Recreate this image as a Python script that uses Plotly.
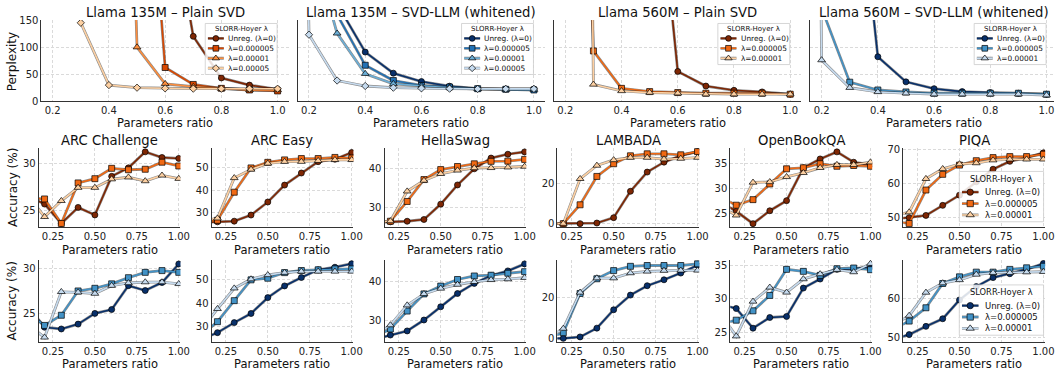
import plotly.graph_objects as go

FIG_W, FIG_H = 1063, 374
FONT = "DejaVu Sans"

# ---------------------------------------------------------------- data
RATIOS = [0.1, 0.2, 0.3, 0.4, 0.5, 0.6, 0.7, 0.8, 0.9, 1.0]
LEGEND_TITLE = "SLORR-Hoyer λ"
LEGEND_LABELS = ["Unreg. (λ=0)", "λ=0.000005", "λ=0.00001", "λ=0.00005"]

TOP_TITLES = ["Llama 135M – Plain SVD", "Llama 135M – SVD-LLM (whitened)",
              "Llama 560M – Plain SVD", "Llama 560M – SVD-LLM (whitened)"]
TASKS = ["ARC Challenge", "ARC Easy", "HellaSwag", "LAMBADA", "OpenBookQA", "PIQA"]

PPL_TICKS = [0, 50, 100, 150]
TOP_X_TICKS = [0.2, 0.4, 0.6, 0.8, 1.0]
ACC_X_TICKS = [0.25, 0.5, 0.75, 1.0]
ACC_Y_TICKS = [[25, 30], [30, 40, 50], [30, 40], [0, 20], [25, 30, 35], [50, 60, 70]]

# Perplexity (top row)
ppl135_plain_unreg = [9000, 6000, 4000, 2500, 1500, 420, 120, 43.2, 30, 22.2]
ppl135_plain_l5e6 = [8000, 5000, 3000, 1500, 740, 62.5, 31.2, 24, 21, 19.2]
ppl135_plain_l1e5 = [8000, 5000, 3000, 1770, 100, 32.4, 27, 23.4, 21, 21]
ppl135_plain_l5e5 = [9000, 4000, 145, 30, 25.2, 24, 23.4, 23.4, 23.4, 23.4]

ppl135_svdllm_unreg = [9000, 600, 180, 91, 52, 36.6, 28, 23.5, 22.8, 22.8]
ppl135_svdllm_l5e6 = [9000, 500, 160, 66.6, 38.4, 29.4, 26.4, 23.4, 22.2, 21]
ppl135_svdllm_l1e5 = [9000, 310, 125.5, 51, 32.4, 28.2, 25, 22.8, 21.6, 21.6]
ppl135_svdllm_l5e5 = [3000, 123, 38.4, 28.3, 25.2, 24, 23.4, 23, 23, 23]

ppl560_plain_unreg = [9000, 6000, 4000, 2000, 573, 55.2, 28.2, 20.4, 17.4, 13.2]
ppl560_plain_l5e6 = [9000, 1500, 93, 24, 18, 16.2, 15, 15, 15, 13.2]
ppl560_plain_l1e5 = [9000, 5000, 31.2, 19.2, 16.2, 15, 13.2, 13.2, 13.2, 13.2]

ppl560_svdllm_unreg = [9000, 3000, 566, 82.3, 36, 23.4, 18, 16.2, 15, 13.2]
ppl560_svdllm_l5e6 = [9000, 172, 35.4, 21, 17.4, 15, 15, 15, 15, 13.2]
ppl560_svdllm_l1e5 = [5000, 76.2, 25.2, 17.4, 15, 13.2, 13.2, 13.2, 13.2, 11.4]

# Accuracy, plain SVD (middle row, oranges)
arcc_plain_unreg = [26.5, 25.66, 23.6, 25.3, 24.5, 28.6, 29.5, 31.2, 30.6, 30.5]
arcc_plain_l5e6 = [26.3, 26.2, 23.6, 27.9, 28.35, 29.45, 29.3, 29.35, 30.1, 29.7]
arcc_plain_l1e5 = [26.6, 24.3, 26.0, 27.4, 27.4, 28.3, 28.5, 28.1, 28.7, 28.35]

arce_plain_unreg = [25.5, 25.8, 26.1, 28.85, 34.7, 42.3, 47.7, 52.8, 53.9, 56.9]
arce_plain_l5e6 = [25.8, 26.5, 39.1, 50.0, 52.5, 53.6, 54.2, 54.2, 54.7, 54.4]
arce_plain_l1e5 = [26.2, 27.4, 45.5, 49.3, 52.0, 52.8, 52.8, 53.2, 53.6, 53.6]

hs_plain_unreg = [26.0, 26.2, 26.35, 26.8, 30.8, 35.8, 40.0, 42.8, 43.8, 44.4]
hs_plain_l5e6 = [26.0, 26.35, 31.5, 37.2, 39.8, 40.6, 41.3, 41.95, 42.0, 42.45]
hs_plain_l1e5 = [26.0, 26.4, 34.15, 36.95, 38.7, 39.6, 40.2, 40.25, 40.4, 40.6]

lam_plain_unreg = [0, 0, 0, 0.3, 3.0, 16.3, 26.0, 31.0, 34.3, 36.3]
lam_plain_l5e6 = [0, 0, 9.5, 23.8, 30.2, 34.2, 35.2, 35.2, 34.7, 36.3]
lam_plain_l1e5 = [0, 0, 22.6, 29.3, 32.1, 33.3, 33.3, 32.5, 32.8, 33.3]

obqa_plain_unreg = [27.5, 25.5, 23.05, 25.6, 27.6, 34.1, 35.85, 37.25, 35.2, 34.7]
obqa_plain_l5e6 = [28.4, 26.7, 27.8, 30.9, 33.9, 34.1, 34.9, 34.4, 34.55, 34.4]
obqa_plain_l1e5 = [26.5, 24.7, 31.2, 31.3, 32.3, 33.1, 34.1, 34.7, 34.7, 35.2]

piqa_plain_unreg = [49.5, 50.0, 50.65, 53.6, 56.6, 60.5, 64.2, 66.5, 67.6, 69.0]
piqa_plain_l5e6 = [49.0, 48.3, 58.1, 62.7, 65.4, 66.7, 67.6, 67.9, 67.9, 68.6]
piqa_plain_l1e5 = [50.5, 51.6, 61.4, 64.3, 65.7, 66.0, 66.85, 67.1, 67.1, 67.1]

# Accuracy, SVD-LLM (bottom row, blues)
arcc_svdllm_unreg = [25.8, 23.4, 23.2, 23.75, 24.96, 25.4, 28.1, 27.55, 28.45, 30.55]
arcc_svdllm_l5e6 = [25.0, 23.6, 24.75, 27.5, 27.8, 28.3, 29.0, 29.6, 29.8, 29.6]
arcc_svdllm_l1e5 = [23.7, 22.25, 27.4, 27.35, 27.2, 28.1, 28.4, 28.5, 28.5, 28.3]

arce_svdllm_unreg = [24.5, 27.4, 31.7, 35.6, 42.4, 47.4, 51.0, 54.3, 55.4, 56.9]
arce_svdllm_l5e6 = [26.1, 32.1, 41.1, 50.0, 50.7, 53.1, 54.0, 54.3, 54.7, 54.7]
arce_svdllm_l1e5 = [28.2, 37.6, 46.4, 50.3, 52.1, 53.1, 53.6, 53.6, 53.6, 53.6]

hs_svdllm_unreg = [25.0, 26.15, 27.2, 30.0, 33.4, 36.8, 39.4, 41.4, 42.6, 44.4]
hs_svdllm_l5e6 = [25.5, 27.7, 32.3, 36.7, 38.7, 40.4, 41.3, 41.5, 42.0, 42.4]
hs_svdllm_l1e5 = [25.8, 28.7, 33.8, 36.7, 38.1, 39.1, 39.8, 40.3, 40.5, 40.85]

lam_svdllm_unreg = [0, 0, 0.7, 5.0, 14.0, 21.2, 25.8, 28.7, 32.0, 35.8]
lam_svdllm_l5e6 = [0, 2.8, 22.0, 29.2, 33.2, 35.3, 35.7, 35.7, 35.7, 36.5]
lam_svdllm_l1e5 = [0, 4.8, 22.5, 29.5, 29.5, 32.0, 32.8, 33.2, 33.3, 33.3]

obqa_svdllm_unreg = [29.2, 28.55, 25.6, 27.2, 27.35, 31.6, 32.95, 34.4, 34.5, 34.75]
obqa_svdllm_l5e6 = [26.2, 26.8, 28.2, 30.5, 34.4, 34.1, 33.5, 34.5, 34.6, 34.35]
obqa_svdllm_l1e5 = [28.0, 24.4, 29.6, 31.7, 30.95, 32.95, 33.7, 34.35, 34.0, 35.25]

piqa_svdllm_unreg = [49.5, 50.75, 52.85, 54.8, 59.6, 63.0, 65.3, 66.3, 67.4, 68.9]
piqa_svdllm_l5e6 = [52.0, 54.2, 57.6, 63.8, 65.5, 66.7, 66.7, 67.4, 67.8, 68.2]
piqa_svdllm_l1e5 = [53.0, 55.6, 61.5, 63.9, 64.7, 66.1, 66.55, 66.55, 66.7, 66.8]

TOP_SERIES = [
    [ppl135_plain_unreg, ppl135_plain_l5e6, ppl135_plain_l1e5, ppl135_plain_l5e5],
    [ppl135_svdllm_unreg, ppl135_svdllm_l5e6, ppl135_svdllm_l1e5, ppl135_svdllm_l5e5],
    [ppl560_plain_unreg, ppl560_plain_l5e6, ppl560_plain_l1e5],
    [ppl560_svdllm_unreg, ppl560_svdllm_l5e6, ppl560_svdllm_l1e5],
]
MID_SERIES = [
    [arcc_plain_unreg, arcc_plain_l5e6, arcc_plain_l1e5],
    [arce_plain_unreg, arce_plain_l5e6, arce_plain_l1e5],
    [hs_plain_unreg, hs_plain_l5e6, hs_plain_l1e5],
    [lam_plain_unreg, lam_plain_l5e6, lam_plain_l1e5],
    [obqa_plain_unreg, obqa_plain_l5e6, obqa_plain_l1e5],
    [piqa_plain_unreg, piqa_plain_l5e6, piqa_plain_l1e5],
]
BOT_SERIES = [
    [arcc_svdllm_unreg, arcc_svdllm_l5e6, arcc_svdllm_l1e5],
    [arce_svdllm_unreg, arce_svdllm_l5e6, arce_svdllm_l1e5],
    [hs_svdllm_unreg, hs_svdllm_l5e6, hs_svdllm_l1e5],
    [lam_svdllm_unreg, lam_svdllm_l5e6, lam_svdllm_l1e5],
    [obqa_svdllm_unreg, obqa_svdllm_l5e6, obqa_svdllm_l1e5],
    [piqa_svdllm_unreg, piqa_svdllm_l5e6, piqa_svdllm_l1e5],
]

# ---------------------------------------------------------------- styles / layout
ORANGE4 = ["#7f2704", "#d94801", "#fd8d3c", "#fdd0a2"]
ORANGE3 = ["#7f2704", "#f16913", "#fdd0a2"]
BLUE4 = ["#08306b", "#2171b5", "#6baed6", "#c6dbef"]
BLUE3 = ["#08306b", "#4292c6", "#c6dbef"]
TOP_PALETTES = [ORANGE4, BLUE4, ORANGE3, BLUE3]
SYMBOLS = ["circle", "square", "triangle-up", "diamond"]
MSIZES = [6.0, 6.0, 6.8, 5.6]
OUTLINE = "rgba(25,25,25,0.5)"
OUTLINE_W, LINE_W = 2.8, 1.6

TOP_LEFTS = [41.8, 300.3, 558.8, 817.3]
TOP_WIDTH = 249.5
TOP_T, TOP_B = 15.5, 99.0
TOP_XR = [0.16, 1.04]
TOP_YR = [0, 150]

ACC_LEFTS = [39 + 174.4 * i for i in range(6)]
ACC_WIDTH = 143.0
ACC_XR = [0.165, 1.01]
MID_T, MID_B = 147.0, 228.3
BOT_T, BOT_B = 262.0, 346.5
MID_YR = [[23.2, 31.6], [23.4, 58.9], [24.8, 45.4], [-1.8, 38.1], [22.35, 38.0], [47.2, 70.4]]
BOT_YR = [[21.7, 31.0], [23.3, 58.5], [24.3, 45.4], [-1.9, 38.4], [23.5, 35.8], [48.8, 69.8]]

AX = dict(showgrid=True, gridcolor="#dadada", griddash="3px,2px", gridwidth=0.8,
          showline=True, linecolor="#333333", linewidth=1.1, zeroline=False,
          ticks="", tickfont=dict(size=10, color="#222222", family=FONT), fixedrange=True)

fig = go.Figure()
panels = []
annotations = []


def text(px, py, s, size, xanchor="center", angle=0, color="#111111"):
    annotations.append(dict(x=px / FIG_W, y=1 - py / FIG_H, xref="paper", yref="paper",
                            text=s, showarrow=False, xanchor=xanchor, yanchor="middle",
                            textangle=angle, borderpad=0,
                            font=dict(family=FONT, size=size, color=color)))


def make_axes(L, Wd, T, B, xr, yr, xticks, xfmt, yticks, show_y):
    k = len(panels) + 1
    s = "" if k == 1 else str(k)
    R = min(L + Wd, FIG_W)
    if R < L + Wd:
        xr = [xr[0], xr[0] + (xr[1] - xr[0]) * (R - L) / Wd]
        Wd = R - L
    fig.update_layout(**{
        "xaxis" + s: dict(domain=[L / FIG_W, R / FIG_W], range=xr, anchor="y" + s,
                          tickmode="array", tickvals=xticks, tickformat=xfmt, **AX),
        "yaxis" + s: dict(domain=[1 - B / FIG_H, 1 - T / FIG_H], range=yr, anchor="x" + s,
                          tickmode="array", tickvals=yticks, showticklabels=show_y, **AX),
    })
    p = dict(x="x" + s, y="y" + s, L=L, W=Wd, T=T, B=B, xr=xr, yr=yr)
    panels.append(p)
    return p


def add_series(p, ys, color, i):
    fig.add_trace(go.Scatter(x=RATIOS, y=ys, xaxis=p["x"], yaxis=p["y"], mode="lines",
                             line=dict(color=OUTLINE, width=OUTLINE_W), hoverinfo="skip", showlegend=False))
    fig.add_trace(go.Scatter(x=RATIOS, y=ys, xaxis=p["x"], yaxis=p["y"], mode="lines+markers",
                             line=dict(color=color, width=LINE_W),
                             marker=dict(symbol=SYMBOLS[i], size=MSIZES[i], color=color,
                                         line=dict(color="black", width=0.7)),
                             showlegend=False))


def px2data(p, px, py):
    x = p["xr"][0] + (px - p["L"]) / p["W"] * (p["xr"][1] - p["xr"][0])
    y = p["yr"][0] + (p["B"] - py) / (p["B"] - p["T"]) * (p["yr"][1] - p["yr"][0])
    return x, y


TOP_LEG = dict(width=72.5, title_dy=5.3, first_dy=15.3, step=10.2, line0=2.7, line1=18.7,
               text_dx=22.0, title_fs=7.0, entry_fs=7.4, ms=0.95, pad=6.5)
ACC_LEG = dict(width=85.0, title_dy=7.3, first_dy=21.3, step=11.7, line0=2.7, line1=19.3,
               text_dx=24.4, title_fs=8.3, entry_fs=8.5, ms=1.05, pad=7.0)


def add_legend(p, left, top, n, colors, spec):
    height = spec["first_dy"] + (n - 1) * spec["step"] + spec["pad"]
    corners = [(left, top), (left + spec["width"], top), (left + spec["width"], top + height),
               (left, top + height), (left, top)]
    bx, by = zip(*[px2data(p, cx, cy) for cx, cy in corners])
    fig.add_trace(go.Scatter(x=list(bx), y=list(by), xaxis=p["x"], yaxis=p["y"], mode="lines",
                             fill="toself", fillcolor="rgba(255,255,255,0.85)",
                             line=dict(color="#cccccc", width=0.8), hoverinfo="skip", showlegend=False))
    text(left + spec["width"] / 2, top + spec["title_dy"], LEGEND_TITLE, spec["title_fs"])
    for i in range(n):
        cy = top + spec["first_dy"] + i * spec["step"]
        x0, y0 = px2data(p, left + spec["line0"], cy)
        x1, _ = px2data(p, left + spec["line1"], cy)
        xm, _ = px2data(p, left + (spec["line0"] + spec["line1"]) / 2, cy)
        fig.add_trace(go.Scatter(x=[x0, x1], y=[y0, y0], xaxis=p["x"], yaxis=p["y"], mode="lines",
                                 line=dict(color=OUTLINE, width=OUTLINE_W), hoverinfo="skip", showlegend=False))
        fig.add_trace(go.Scatter(x=[x0, x1], y=[y0, y0], xaxis=p["x"], yaxis=p["y"], mode="lines",
                                 line=dict(color=colors[i], width=LINE_W), hoverinfo="skip", showlegend=False))
        fig.add_trace(go.Scatter(x=[xm], y=[y0], xaxis=p["x"], yaxis=p["y"], mode="markers",
                                 marker=dict(symbol=SYMBOLS[i], size=MSIZES[i] * spec["ms"], color=colors[i],
                                             line=dict(color="black", width=0.7)),
                                 cliponaxis=False, hoverinfo="skip", showlegend=False))
        text(left + spec["text_dx"], cy, LEGEND_LABELS[i], spec["entry_fs"], xanchor="left")


# ---------------------------------------------------------------- top row (perplexity)
for j in range(4):
    L = TOP_LEFTS[j]
    p = make_axes(L, TOP_WIDTH, TOP_T, TOP_B, TOP_XR, TOP_YR, TOP_X_TICKS, ".1f", PPL_TICKS, j == 0)
    pal = TOP_PALETTES[j]
    for i, ys in enumerate(TOP_SERIES[j]):
        add_series(p, ys, pal[i], i)
    add_legend(p, L + TOP_WIDTH - 11.8 - TOP_LEG["width"], TOP_T + 3.5, len(TOP_SERIES[j]), pal, TOP_LEG)
    text(L + TOP_WIDTH / 2, 7.5, TOP_TITLES[j], 13.2)
    text(L + TOP_WIDTH / 2, 121, "Parameters ratio", 11.5)
text(13, 58, "Perplexity", 12, angle=-90)

# ---------------------------------------------------------------- middle / bottom rows (accuracy)
for row, (T, B, YR, SER, pal) in enumerate([(MID_T, MID_B, MID_YR, MID_SERIES, ORANGE3),
                                             (BOT_T, BOT_B, BOT_YR, BOT_SERIES, BLUE3)]):
    for j in range(6):
        L = ACC_LEFTS[j]
        p = make_axes(L, ACC_WIDTH, T, B, ACC_XR, YR[j], ACC_X_TICKS, ".2f", ACC_Y_TICKS[j], True)
        for i, ys in enumerate(SER[j]):
            add_series(p, ys, pal[i], i)
        if j == 5:
            leg_top = 171.0 if row == 0 else 287.6
            add_legend(p, 967.5, leg_top, 3, pal, ACC_LEG)
        if row == 0:
            text(L + ACC_WIDTH / 2, 139, TASKS[j], 13.2)
        text(L + ACC_WIDTH / 2, 251.5 if row == 0 else 368.5, "Parameters ratio", 11.5)
    text(12.5, (T + B) / 2, "Accuracy (%)", 12, angle=-90)

fig.update_layout(width=FIG_W, height=FIG_H, margin=dict(l=0, r=0, t=0, b=0),
                  paper_bgcolor="white", plot_bgcolor="white", showlegend=False,
                  font=dict(family=FONT), annotations=annotations)

RESET_PAGE = ("document.documentElement.style.margin='0';document.body.style.margin='0';"
              "document.body.style.padding='0';document.body.style.overflow='hidden';")
fig.write_html("out.html", post_script=RESET_PAGE, config={"displayModeBar": False})
